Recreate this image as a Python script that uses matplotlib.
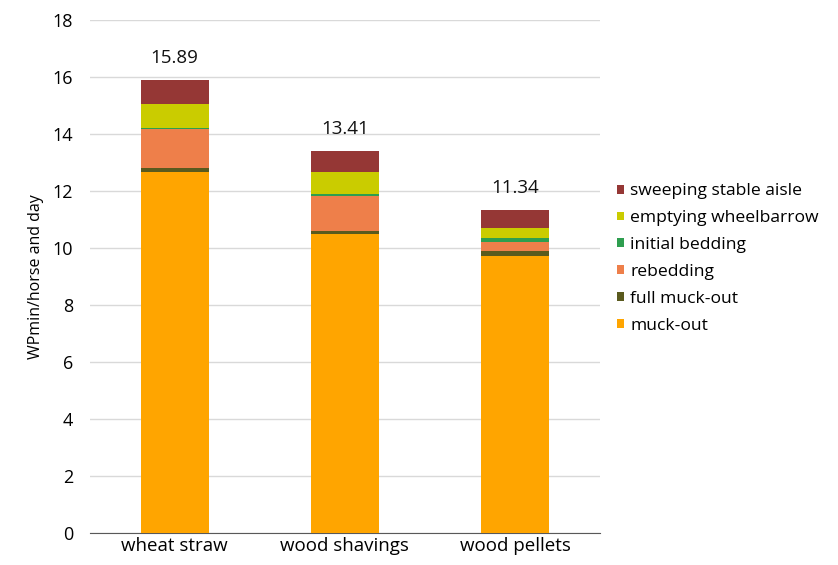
import matplotlib
matplotlib.use('Agg')
import matplotlib.pyplot as plt
import numpy as np

plt.rcParams['font.family'] = ['Open Sans', 'DejaVu Sans']

beddings = ['wheat straw', 'wood shavings', 'wood pellets']
totals = [15.89, 13.41, 11.34]

# work time per task, stacked bottom to top
muck_out = [12.68, 10.50, 9.72]
full_muck_out = [0.12, 0.08, 0.17]
rebedding = [1.38, 1.25, 0.33]
initial_bedding = [0.02, 0.06, 0.12]
emptying_wheelbarrow = [0.86, 0.77, 0.35]
sweeping_aisle = [0.83, 0.75, 0.65]

series = [
    ('muck-out', muck_out, '#FFA500'),
    ('full muck-out', full_muck_out, '#5A5A1E'),
    ('rebedding', rebedding, '#EE7F4A'),
    ('initial bedding', initial_bedding, '#2E9E4F'),
    ('emptying wheelbarrow', emptying_wheelbarrow, '#CACC00'),
    ('sweeping stable aisle', sweeping_aisle, '#953735'),
]

fig = plt.figure(figsize=(8.38, 5.65), dpi=100)
ax = fig.add_axes([0.107, 0.0566, 0.609, 0.908])

x = np.arange(len(beddings))
bottom = np.zeros(len(beddings))
handles = []
for name, vals, col in series:
    b = ax.bar(x, vals, 0.4, bottom=bottom, color=col, label=name, zorder=3)
    handles.append(b)
    bottom += np.array(vals)

for xi, t in zip(x, totals):
    ax.text(xi, t + 0.45, '%.2f' % t, ha='center', va='bottom', fontsize=13.5, color='#111111')

ax.set_xlim(-0.5, 2.5)
ax.set_ylim(0, 18)
ax.set_yticks(np.arange(0, 19, 2))
ax.set_xticks(x)
ax.set_xticklabels(beddings, fontsize=13.5)
ax.tick_params(axis='y', labelsize=13, length=0, pad=12)
ax.tick_params(axis='x', length=0, pad=3)
ax.yaxis.grid(True, color='#d9d9d9', lw=1, zorder=0)
for s in ['top', 'right', 'left']:
    ax.spines[s].set_visible(False)
ax.spines['bottom'].set_color('#595959')
ax.set_ylabel('WPmin/horse and day', fontsize=11.5, labelpad=6)

leg = fig.legend(handles[::-1], [s[0] for s in series][::-1], loc='upper left',
                 bbox_to_anchor=(0.722, 0.697), frameon=False, fontsize=12.6,
                 handlelength=0.4, handleheight=0.4, handletextpad=0.35,
                 labelspacing=0.62, borderaxespad=0.3)

fig.savefig('out.png', dpi=100)
